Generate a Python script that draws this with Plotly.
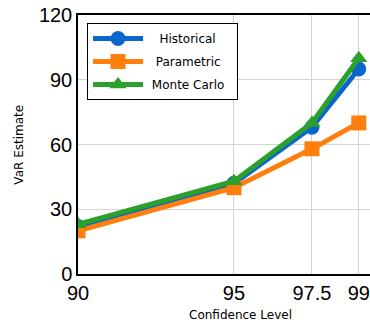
import plotly.graph_objects as go

confidence = [90, 95, 97.5, 99]
historical = [22, 42, 68, 95]
parametric = [20, 40, 58, 70]
monte_carlo = [23, 43, 70, 100]
x_ticks = [90, 95, 97.5, 99]
x_tick_labels = ["90", "95", "97.5", "99"]
y_ticks = [0, 30, 60, 90, 120]
series_names = ["Historical", "Parametric", "Monte Carlo"]
x_title = "Confidence Level"
y_title = "VaR Estimate"

NB = "\u00a0"
legend_pad = [(3, 1), (2, 0), (1, 2)]

fig = go.Figure()
series = [
    (historical, "#0a66cc", "circle"),
    (parametric, "#ff7f0e", "square"),
    (monte_carlo, "#2ca02c", "triangle-up"),
]
for name, (ys, color, sym), (pl, pr) in zip(series_names, series, legend_pad):
    fig.add_trace(go.Scatter(
        x=confidence, y=ys, name=NB * pl + name + NB * pr, mode="lines+markers",
        legendgroup=name,
        line=dict(color=color, width=5),
        marker=dict(color=color, size=15, symbol=sym),
    ))

fig.update_layout(
    width=370, height=322,
    margin=dict(l=78, r=0, t=15, b=48),
    plot_bgcolor="white", paper_bgcolor="white",
    font=dict(family="Liberation Sans", color="black"),
    showlegend=True,
    legend=dict(
        x=0.031, y=0.969, xanchor="left", yanchor="top",
        bgcolor="white", bordercolor="black", borderwidth=1,
        font=dict(size=12, family="DejaVu Sans"),
        itemsizing="trace", itemwidth=50, tracegroupgap=4,
    ),
    annotations=[
        dict(text=x_title, xref="paper", yref="paper", x=0.555, y=-0.158,
             xanchor="center", yanchor="middle", showarrow=False,
             font=dict(size=12, family="DejaVu Sans")),
        dict(text=y_title, xref="paper", yref="paper", x=-0.205, y=0.5,
             xanchor="center", yanchor="middle", showarrow=False, textangle=-90,
             font=dict(size=12, family="DejaVu Sans")),
    ],
)
fig.update_xaxes(
    range=[90, 99.36], tickvals=x_ticks, ticktext=x_tick_labels,
    showgrid=True, gridcolor="#d3d3d3", gridwidth=1,
    showline=True, linecolor="black", linewidth=1.5, mirror=True,
    ticks="", tickfont=dict(size=20), zeroline=False, automargin=False,
    ticklabeloverflow="allow",
)
fig.update_yaxes(
    range=[0, 120], tickvals=y_ticks,
    showgrid=True, gridcolor="#d3d3d3", gridwidth=1,
    showline=True, linecolor="black", linewidth=1.5, mirror=False,
    ticks="", tickfont=dict(size=20), zeroline=False, automargin=False,
    ticklabeloverflow="allow",
)
fig.write_html("out.html", config={"displayModeBar": False},
               post_script="document.body.style.margin='0';")
